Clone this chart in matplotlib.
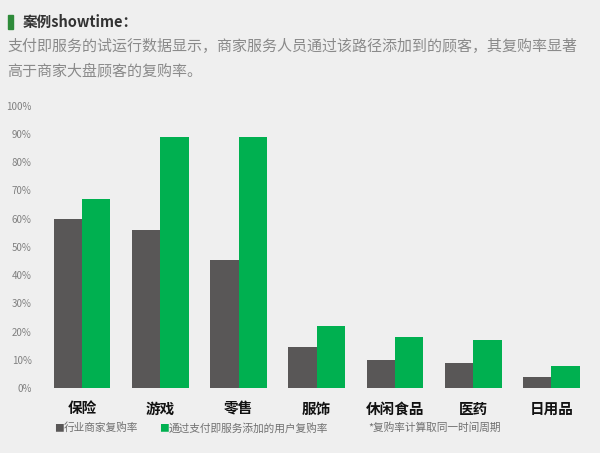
"""
Repurchase-rate comparison: industry merchants vs users added through 支付即服务.
"""
import matplotlib

matplotlib.use("Agg")
import matplotlib.pyplot as plt
import numpy as np

categories = ["保险", "游戏", "零售", "服饰", "休闲食品", "医药", "日用品"]
industry_rate = [60, 56, 45.5, 14.5, 10, 9, 4]
service_rate = [67, 89, 89, 22, 18, 17, 7.7]
y_ticks = [0, 10, 20, 30, 40, 50, 60, 70, 80, 90, 100]

title = "案例showtime："
subtitle = ["支付即服务的试运行数据显示，商家服务人员通过该路径添加到的顾客，其复购率显著",
            "高于商家大盘顾客的复购率。"]
legend_labels = ["行业商家复购率", "通过支付即服务添加的用户复购率"]
footnote = "*复购率计算取同一时间周期"

BG = "#efefef"
GRAY = "#595757"
GREEN = "#00b050"
FONTS = ["Noto Sans CJK SC", "DejaVu Sans"]

plt.rcParams["font.family"] = FONTS

W, H = 600, 453
fig = plt.figure(figsize=(W / 100, H / 100), dpi=100, facecolor=BG)


def px(x, y):
    """figure pixel (from top-left) -> figure fraction"""
    return x / W, 1 - y / H


# axes spans pixels x 40..595, y 105.7 (100%) .. 388 (0%)
ax = fig.add_axes([40 / W, (H - 388) / H, 555 / W, 282.3 / H])
ax.set_facecolor(BG)

x = np.arange(len(categories))
bw = 0.362
ax.bar(x - bw, industry_rate, width=bw, align="edge", color=GRAY)
ax.bar(x, service_rate, width=bw, align="edge", color=GREEN)

ax.set_xlim(-0.537, 6.556)
ax.set_ylim(0, 100)
ax.set_yticks(y_ticks)
ax.set_yticklabels([f"{v}%" for v in y_ticks], fontsize=7, color="#808080")
ax.tick_params(axis="y", length=0, pad=6)
ax.set_xticks(x)
ax.set_xticklabels(categories, fontsize=10.5, fontweight="black", color="#111111")
ax.tick_params(axis="x", length=0, pad=9)
for s in ax.spines.values():
    s.set_visible(False)

# header
fig.patches.append(plt.Rectangle(px(8, 29), 5 / W, 14 / H, transform=fig.transFigure,
                                 color="#2e8b3a", zorder=3))
fig.text(*px(23, 22), title, fontsize=10.5, fontweight="bold", color="#333333", va="center")
fig.text(*px(7, 47), subtitle[0], fontsize=10.8, color="#8a8a8a", va="center")
fig.text(*px(7, 71), subtitle[1], fontsize=10.8, color="#8a8a8a", va="center")

# legend row
fig.text(*px(54, 428), "■", fontsize=7, color=GRAY, va="center")
fig.text(*px(64, 428), legend_labels[0], fontsize=7.7, color="#707070", va="center")
fig.text(*px(159, 428), "■", fontsize=7, color=GREEN, va="center")
fig.text(*px(169, 428), legend_labels[1], fontsize=7.7, color="#707070", va="center")
fig.text(*px(368, 428), footnote, fontsize=7.7, color="#707070", va="center")

fig.savefig("out.png", dpi=100, facecolor=BG)
